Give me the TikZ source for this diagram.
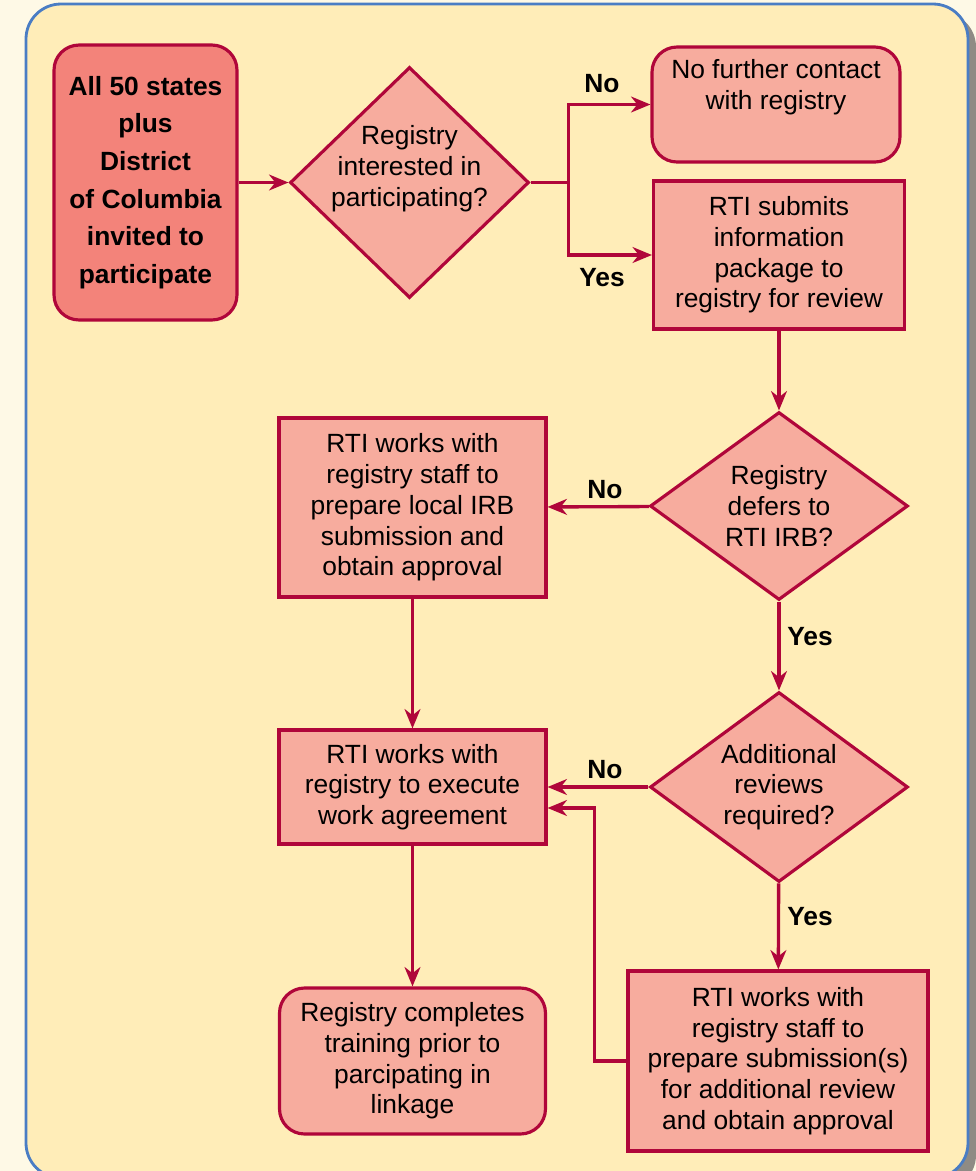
\documentclass[tikz,border=0pt]{standalone}
\usepackage{fontspec}
\setmainfont{Liberation Sans}
\usetikzlibrary{shapes.geometric,arrows.meta}

\definecolor{pagecream}{HTML}{FEF9E6}
\definecolor{panelyellow}{HTML}{FFEDB8}
\definecolor{panelblue}{HTML}{4A7DC4}
\definecolor{shadowgray}{HTML}{8F8B85}
\definecolor{linkred}{HTML}{B0063A}
\definecolor{boxpink}{HTML}{F7AC9E}
\definecolor{startred}{HTML}{F3837A}

\tikzset{
  txt/.style={align=center, font=\fontsize{15}{17.5}\selectfont},
  stepbox/.style={txt, draw=linkred, fill=boxpink, line width=1.8pt, inner sep=0pt},
  roundbox/.style={stepbox, rounded corners=0.5cm},
  decision/.style={stepbox, diamond},
  answer/.style={font=\fontsize{15}{17.5}\selectfont\bfseries},
  link/.style={draw=linkred, line width=1.9pt, -{Stealth[length=11pt,width=9pt,inset=3.5pt]}}
}

\begin{document}
\begin{tikzpicture}[x=0.02cm, y=-0.02cm]
                \useasboundingbox (0,0) rectangle (976,1171);
                \clip (0,0) rectangle (976,1171);
                % page and panel
                \fill[pagecream] (0,0) rectangle (976,1171);
                \fill[shadowgray, rounded corners=0.7cm] (34,12) rectangle (976,1190);
                \draw[panelblue, fill=panelyellow, line width=1.6pt, rounded corners=0.7cm] (26,4) rectangle (968,1178);

                \node[roundbox, fill=startred, minimum width=3.66cm, minimum height=5.5cm,
                      font=\fontsize{15}{21.4}\selectfont\bfseries] (start) at (145.5,182.5)
                      {All 50 states\\plus\\District\\of Columbia\\invited to\\participate};
                \node[decision, minimum width=4.78cm, minimum height=4.62cm,
                      label={[txt, yshift=0.28cm]center:Registry\\interested in\\participating?}] (interest) at (409.5,182.5) {};
                \node[roundbox, minimum width=4.96cm, minimum height=2.3cm] (nocontact) at (776,104.5)
                      {No further contact\\with registry\\\strut};
                \node[stepbox, minimum width=5.02cm, minimum height=2.96cm] (submit) at (779,255)
                      {RTI submits\\information\\package to\\registry for review};
                \node[decision, minimum width=5.16cm, minimum height=3.76cm,
                      label={[txt]center:Registry\\defers to\\RTI IRB?}] (defer) at (779,506) {};
                \node[stepbox, minimum width=5.34cm, minimum height=3.58cm] (localirb) at (412.5,507.5)
                      {RTI works with\\registry staff to\\prepare local IRB\\submission and\\obtain approval};
                \node[decision, minimum width=5.16cm, minimum height=3.8cm,
                      label={[txt]center:Additional\\reviews\\required?}] (extra) at (779,787) {};
                \node[stepbox, minimum width=5.34cm, minimum height=2.28cm] (agree) at (412.5,787)
                      {RTI works with\\registry to execute\\work agreement};
                \node[roundbox, minimum width=5.32cm, minimum height=2.92cm] (training) at (412.5,1061)
                      {Registry completes\\training prior to\\parcipating in\\linkage};
                \node[stepbox, minimum width=6cm, minimum height=3.6cm] (review) at (778,1061)
                      {RTI works with\\registry staff to\\prepare submission(s)\\for additional review\\and obtain approval};

                \node[answer] (no1) at (602,84) {No};
                \node[answer] (yes1) at (602,278) {Yes};
                \node[answer] (no2) at (605,490) {No};
                \node[answer] (yes2) at (810,637) {Yes};
                \node[answer] (no3) at (605,770) {No};
                \node[answer] (yes3) at (810,917) {Yes};

                \draw[link] (start) to (interest);
                \draw[link] (interest.east) -- ++(38,0) |- (nocontact.west);
                \draw[link] (interest.east) -- ++(38,0) |- (submit.west);
                \draw[link] (submit) to (defer);
                \draw[link] (defer) to (localirb);
                \draw[link] (defer) to (extra);
                \draw[link] (localirb) to (agree);
                \draw[link] (extra) to (agree);
                \draw[link] (extra) to (review);
                \draw[link] (review.west) -- ++(-32,0) |- ([yshift=-0.42cm]agree.east);
                \draw[link] (agree) to (training);
            \end{tikzpicture}
\end{document}
